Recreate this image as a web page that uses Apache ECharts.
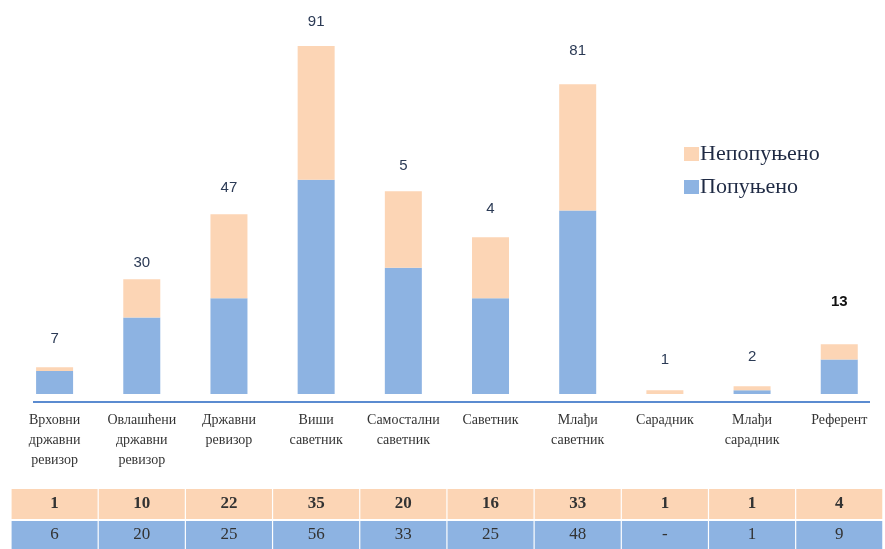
<!DOCTYPE html>
<html>
<head>
<meta charset="utf-8">
<script src="https://cdn.jsdelivr.net/npm/echarts@6/dist/echarts.min.js"></script>
<style>
html,body{margin:0;padding:0;background:#fff;}
#main{width:885px;height:549px;}
</style>
</head>
<body>
<div id="main"></div>
<script>
// категорије (звања)
var categories = ['Врховни\nдржавни\nревизор', 'Овлашћени\nдржавни\nревизор', 'Државни\nревизор', 'Виши\nсаветник',
    'Самостални\nсаветник', 'Саветник', 'Млађи\nсаветник', 'Сарадник', 'Млађи\nсарадник', 'Референт'];
// попуњено / непопуњено
var popunjeno = [6, 20, 25, 56, 33, 25, 48, '-', 1, 9];
var nepopunjeno = [1, 10, 22, 35, 20, 16, 33, 1, 1, 4];
// ознаке изнад стубова (како стоје на слици)
var topLabels = ['7', '30', '47', '91', '5', '4', '81', '1', '2', '13'];
// размак ознаке од врха стуба
var labelGap = [21, 9, 19, 17, 18, 21, 26, 23, 22, 35];

var cPeach = '#fcd5b5';
var cBlue = '#8db3e2';

var _main = document.getElementById('main');
var chart = echarts.init(_main, null, {width: 885, height: 549});

function cellAxis(vals, bg, margin, h, bold){
    return {
        type: 'category',
        gridIndex: 0,
        position: 'bottom',
        data: vals.map(function(v){ return String(v); }),
        axisLine: {show: false},
        axisTick: {show: false},
        splitLine: {show: false},
        axisLabel: {
            interval: 0,
            margin: margin,
            width: 86,
            height: h,
            lineHeight: h,
            align: 'center',
            verticalAlign: 'top',
            backgroundColor: bg,
            color: '#333',
            fontFamily: 'Liberation Serif',
            fontWeight: bold ? 'bold' : 'normal',
            fontSize: 17,
            overflow: 'none'
        }
    };
}

var option = {
    animation: false,
    grid: {left: 11, right: -3, top: 0, bottom: 154, containLabel: false},
    legend: {
        orient: 'vertical',
        left: 679,
        top: 138,
        itemWidth: 15,
        itemHeight: 14,
        itemGap: 11,
        icon: 'rect',
        data: ['Непопуњено', 'Попуњено'],
        textStyle: {fontFamily: 'Liberation Serif', fontSize: 22, color: '#1f2a44', padding: [0, 0, 0, -4]}
    },
    xAxis: [
        {
            type: 'category',
            data: categories,
            offset: 7,
            axisLine: {show: false},
            axisTick: {show: false},
            axisLabel: {
                interval: 0,
                margin: 9,
                verticalAlign: 'top',
                fontFamily: 'Liberation Serif',
                fontSize: 14,
                lineHeight: 20,
                color: '#333'
            }
        },
        cellAxis(nepopunjeno, cPeach, 95, 30, true),
        cellAxis(popunjeno, cBlue, 127, 28, false)
    ],
    yAxis: {
        type: 'value',
        min: 0,
        max: 103,
        show: false,
        splitLine: {show: false}
    },
    graphic: [{
        type: 'line',
        shape: {x1: 33, y1: 402, x2: 870, y2: 402},
        style: {stroke: '#5b8bd0', lineWidth: 2}
    }],
    series: [
        {
            name: 'Попуњено',
            type: 'bar',
            stack: 'a',
            barWidth: 37,
            itemStyle: {color: cBlue},
            data: popunjeno
        },
        {
            name: 'Непопуњено',
            type: 'bar',
            stack: 'a',
            barWidth: 37,
            itemStyle: {color: cPeach},
            data: nepopunjeno.map(function(v, i){
                return {
                    value: v,
                    label: {
                        show: true,
                        position: 'top',
                        distance: labelGap[i],
                        formatter: topLabels[i],
                        fontFamily: 'Liberation Sans',
                        fontSize: 15,
                        fontWeight: i === 9 ? 'bold' : 'normal',
                        color: i === 9 ? '#111' : '#2b3a55'
                    }
                };
            })
        }
    ]
};

chart.setOption(option);
</script>
</body>
</html>
